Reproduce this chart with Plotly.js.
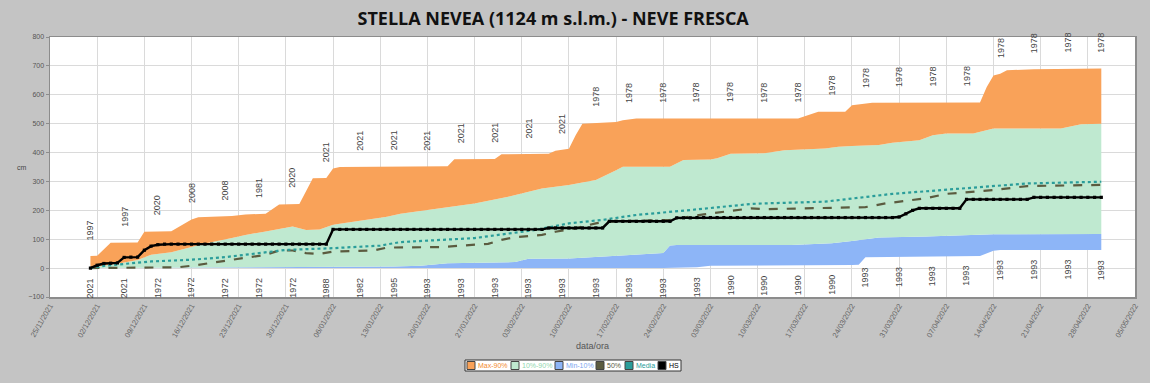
<!DOCTYPE html>
<html>
<head>
<meta charset="utf-8">
<script src="https://cdn.plot.ly/plotly-3.0.1.min.js"></script>
<style>html,body{margin:0;padding:0;background:#c4c4c4;}#chart{width:1150px;height:383px;}</style>
</head>
<body>
<div id="chart"></div>
<script>
// ---- data ----
const maxDates = ['2021-12-01','2021-12-02','2021-12-04','2021-12-08','2021-12-09','2021-12-13','2021-12-16','2021-12-17','2021-12-22','2021-12-24','2021-12-27','2021-12-29','2022-01-01','2022-01-03','2022-01-05','2022-01-06','2022-01-07','2022-01-23','2022-01-24','2022-01-30','2022-01-31','2022-02-07','2022-02-08','2022-02-10','2022-02-11','2022-02-12','2022-02-17','2022-02-18','2022-02-20','2022-03-16','2022-03-19','2022-03-23','2022-03-24','2022-03-27','2022-04-12','2022-04-13','2022-04-14','2022-04-15','2022-04-16','2022-04-20','2022-04-30'];
const maxValues = [42,43,88,89,126,128,168,176,180,186,188,220,222,311,312,345,350,353,377,378,394,396,406,413,460,500,506,512,518,518,541,541,564,572,573,627,667,673,685,688,691];

const p90Dates = ['2021-12-01','2021-12-05','2021-12-08','2021-12-10','2021-12-13','2021-12-15','2021-12-18','2021-12-22','2021-12-24','2021-12-27','2021-12-31','2022-01-02','2022-01-04','2022-01-06','2022-01-11','2022-01-14','2022-01-16','2022-01-22','2022-01-27','2022-02-01','2022-02-06','2022-02-10','2022-02-14','2022-02-17','2022-02-18','2022-02-25','2022-02-27','2022-03-03','2022-03-04','2022-03-06','2022-03-11','2022-03-14','2022-03-17','2022-03-20','2022-03-22','2022-03-24','2022-03-28','2022-03-30','2022-04-03','2022-04-05','2022-04-07','2022-04-11','2022-04-14','2022-04-24','2022-04-27','2022-04-30'];
const p90Values = [2,15,28,46,55,68,85,104,115,127,144,132,134,150,167,178,188,207,224,247,276,288,305,339,351,351,374,376,380,396,398,408,412,414,420,423,426,434,443,460,466,466,483,483,498,500];

const p10Dates = ['2021-12-01','2021-12-20','2022-01-05','2022-01-15','2022-01-19','2022-01-23','2022-02-02','2022-02-04','2022-02-10','2022-02-15','2022-02-19','2022-02-24','2022-02-25','2022-02-26','2022-03-15','2022-03-21','2022-03-24','2022-03-25','2022-03-28','2022-04-04','2022-04-09','2022-04-14','2022-04-30'];
const p10Values = [0,2,4,6,8,17,21,32,33,40,45,52,78,80,80,86,94,97,106,109,113,117,118];

const minDates = ['2021-12-01','2022-02-24','2022-03-01','2022-03-03','2022-03-24','2022-03-25','2022-03-26','2022-04-04','2022-04-12','2022-04-14','2022-04-15','2022-04-30'];
const minValues = [0,0,3,8,11,12,38,40,42,60,63,63];

const p50Dates = ['2021-12-01','2021-12-10','2021-12-14','2021-12-16','2021-12-21','2021-12-22','2021-12-25','2021-12-27','2021-12-29','2021-12-31','2022-01-02','2022-01-04','2022-01-06','2022-01-12','2022-01-14','2022-01-22','2022-01-29','2022-01-31','2022-02-02','2022-02-06','2022-02-08','2022-02-11','2022-02-14','2022-02-16','2022-02-25','2022-03-02','2022-03-09','2022-03-11','2022-03-26','2022-03-29','2022-04-04','2022-04-07','2022-04-14','2022-04-19','2022-04-30'];
const p50Values = [0,1,3,8,25,29,37,46,61,61,52,49,57,61,71,73,84,98,107,115,126,138,155,161,167,186,207,204,211,224,242,257,270,284,288];

const mediaDates = ['2021-12-01','2021-12-03','2021-12-10','2021-12-16','2021-12-21','2021-12-26','2021-12-30','2022-01-06','2022-01-13','2022-01-16','2022-01-27','2022-02-05','2022-02-10','2022-02-15','2022-02-20','2022-02-28','2022-03-09','2022-03-11','2022-03-20','2022-03-30','2022-04-09','2022-04-19','2022-04-30'];
const mediaValues = [0,8,23,29,38,52,63,69,78,90,104,132,155,167,184,201,222,224,230,257,276,293,299];

// HS: one value per day from 2021-12-01 to 2022-04-30
const hsStart = '2021-12-01';
const hsValues = [
  0,10,16,17,18,37,38,38,62,76,81,83,83,83,83,83,83,83,83,83,83,83,83,83,83,83,83,83,83,83,83,
  83,83,83,83,83,134,134,134,134,134,134,134,134,134,134,134,134,134,134,134,134,134,134,134,134,134,134,134,134,134,134,
  134,134,134,134,134,134,139,139,139,139,139,139,139,139,139,162,162,162,162,162,162,162,162,162,162,174,174,174,
  175,175,175,175,175,175,175,175,175,175,175,175,175,175,175,175,175,175,175,175,175,175,175,175,175,175,175,175,175,175,177,
  188,200,207,207,207,207,207,207,207,238,238,238,238,238,238,238,238,238,238,245,245,245,245,245,245,245,245,245,245,245
];

// year labels every 5 days
const labelDates = ['2021-12-01','2021-12-06','2021-12-11','2021-12-16','2021-12-21','2021-12-26','2021-12-31','2022-01-05','2022-01-10','2022-01-15','2022-01-20','2022-01-25','2022-01-30','2022-02-04','2022-02-09','2022-02-14','2022-02-19','2022-02-24','2022-03-01','2022-03-06','2022-03-11','2022-03-16','2022-03-21','2022-03-26','2022-03-31','2022-04-05','2022-04-10','2022-04-15','2022-04-20','2022-04-25','2022-04-30'];
const maxYears = ['1997','1997','2020','2008','2008','1981','2020','2021','2021','2021','2021','2021','2021','2021','2021','1978','1978','1978','1978','1978','1978','1978','1978','1978','1978','1978','1978','1978','1978','1978','1978'];
const minYears = ['2021','2021','1972','1972','1972','1972','1972','1988','1982','1995','1993','1993','1993','1993','1993','1993','1993','1993','1993','1990','1990','1990','1990','1993','1993','1993','1993','1993','1993','1993','1993'];

const legendNames = ['Max-90%','10%-90%','Min-10%','50%','Media','HS'];

// ---- build ----
function dayList(start, n){
  const out=[]; const t0=Date.parse(start);
  for(let i=0;i<n;i++){ const d=new Date(t0+i*86400000); out.push(d.toISOString().slice(0,10)); }
  return out;
}
const hsDates = dayList(hsStart, hsValues.length);

function valueAt(dates, vals, d){
  const t=Date.parse(d);
  for(let i=0;i<dates.length-1;i++){
    const a=Date.parse(dates[i]), b=Date.parse(dates[i+1]);
    if(t>=a && t<=b){ return vals[i]+(vals[i+1]-vals[i])*(t-a)/(b-a); }
  }
  return vals[vals.length-1];
}

const cOrange='#f9a259', cGreen='#bfe9d0', cBlue='#8db5f7', cOlive='#5b5b3f', cTeal='#2a9d9a';

const traces=[
  {x:minDates,y:minValues,type:'scatter',mode:'lines',line:{width:0,color:cBlue},showlegend:false,hoverinfo:'skip'},
  {x:p10Dates,y:p10Values,type:'scatter',mode:'lines',fill:'tonexty',fillcolor:cBlue,line:{width:0,color:cBlue},name:legendNames[2]},
  {x:p90Dates,y:p90Values,type:'scatter',mode:'lines',fill:'tonexty',fillcolor:cGreen,line:{width:0,color:cGreen},name:legendNames[1]},
  {x:maxDates,y:maxValues,type:'scatter',mode:'lines',fill:'tonexty',fillcolor:cOrange,line:{width:0,color:cOrange},name:legendNames[0]},
  {x:p50Dates,y:p50Values,type:'scatter',mode:'lines',line:{color:cOlive,width:2.2,dash:'dash'},name:legendNames[3]},
  {x:mediaDates,y:mediaValues,type:'scatter',mode:'lines',line:{color:cTeal,width:2.2,dash:'dot'},name:legendNames[4]},
  {x:hsDates,y:hsValues,type:'scatter',mode:'lines+markers',line:{color:'#000',width:2.4},
   marker:{color:'#000',size:3.2,symbol:'square'},name:legendNames[5]}
];

const annotations=[];
const lblFont={family:'Liberation Sans, Arial',size:9,color:'#444'};
labelDates.forEach((d,i)=>{
  annotations.push({x:d,y:valueAt(maxDates,maxValues,d),xref:'x',yref:'y',text:maxYears[i],showarrow:false,
    textangle:-90,yanchor:'bottom',yshift:14,font:lblFont});
  annotations.push({x:d,y:valueAt(minDates,minValues,d),xref:'x',yref:'y',text:minYears[i],showarrow:false,
    textangle:-90,yanchor:'top',yshift:-8,font:lblFont});
});
annotations.push({x:-0.032,y:0.5,xref:'paper',yref:'paper',text:'cm',showarrow:false,
  font:{family:'Liberation Sans, Arial',size:7,color:'#444'}});

// custom compact legend (pixel layout converted to paper coords)
const plotL=50, plotW=1085, plotT=37, plotH=260;
const px=v=>(v-plotL)/plotW, py=v=>(plotT+plotH-v)/plotH;
const shapes=[];
shapes.push({type:'rect',xref:'paper',yref:'paper',x0:px(465),x1:px(681),y0:py(371),y1:py(360),
  fillcolor:'#ffffff',line:{color:'#333',width:1},layer:'below'});
const legSwatch=[467,511,555,596,625,658];
const legText=[477,521,565,606,635,668];
const legFill=[cOrange,cGreen,cBlue,cOlive,cTeal,'#000000'];
const legTextCol=['#f28a2e','#8fd6ae','#7aa6f0',cOlive,cTeal,'#000000'];
legendNames.forEach((n,i)=>{
  shapes.push({type:'rect',xref:'paper',yref:'paper',x0:px(legSwatch[i]),x1:px(legSwatch[i]+8),y0:py(369.5),y1:py(361.5),
    fillcolor:legFill[i],line:{color:'#444',width:1},layer:'above'});
  annotations.push({x:px(legText[i]),y:py(365.5),xref:'paper',yref:'paper',xanchor:'left',yanchor:'middle',
    text:n,showarrow:false,borderpad:0,font:{family:'Liberation Sans, Arial',size:7,color:legTextCol[i]}});
});

const layout={
  width:1150,height:383,
  paper_bgcolor:'#c4c4c4',plot_bgcolor:'#ffffff',
  margin:{l:50,r:15,t:37,b:86},
  title:{text:'<b>STELLA NEVEA (1124 m s.l.m.) - NEVE FRESCA</b>',xref:'container',x:0.481,xanchor:'center',
    yref:'container',y:0.95,yanchor:'middle',font:{family:'Open Sans',size:18,color:'#111'}},
  xaxis:{type:'date',range:['2021-11-25','2022-05-05'],tick0:'2021-11-25',dtick:7*86400000,tickformat:'%d/%m/%Y',
    tickangle:-60,tickfont:{family:'Liberation Sans, Arial',size:7.5,color:'#666'},
    showgrid:true,gridcolor:'#dadada',gridwidth:1,showline:true,mirror:true,linecolor:'#8c8c8c',linewidth:1.5,
    ticks:'',zeroline:false,
    title:{text:'data/ora',font:{family:'Liberation Sans, Arial',size:9,color:'#555'},standoff:4}},
  yaxis:{range:[-100,800],dtick:100,tickfont:{family:'Liberation Sans, Arial',size:7,color:'#555'},
    showgrid:true,gridcolor:'#dadada',gridwidth:1,showline:true,mirror:true,linecolor:'#8c8c8c',linewidth:1.5,
    zeroline:false,ticks:'outside',ticklen:3,tickcolor:'#8c8c8c'},
  showlegend:false,
  annotations:annotations,
  shapes:shapes,
  hovermode:false
};

Plotly.newPlot('chart',traces,layout,{displayModeBar:false,staticPlot:true});
</script>
</body>
</html>
